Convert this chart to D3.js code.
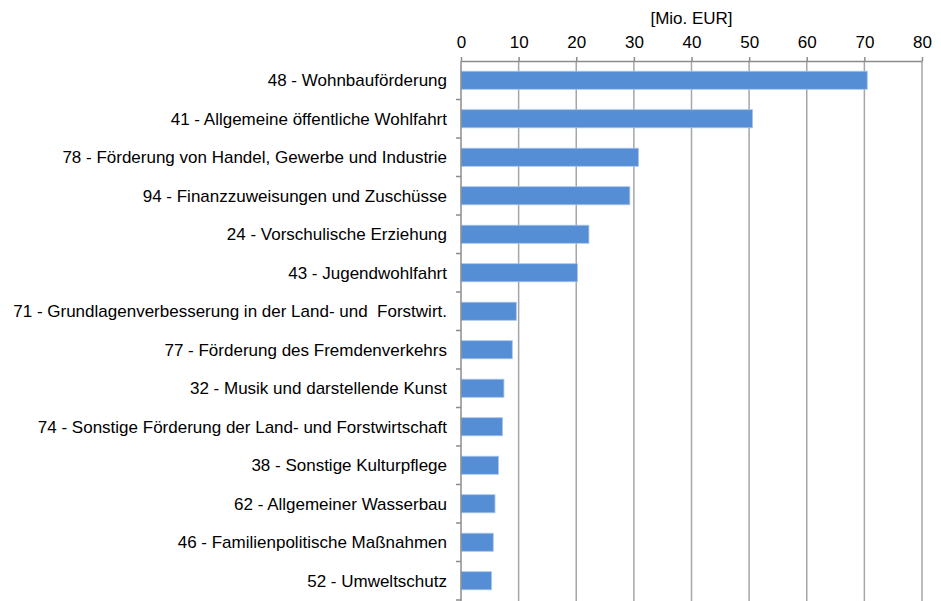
<!DOCTYPE html>
<html>
<head>
<meta charset="utf-8">
<script src="https://cdn.jsdelivr.net/npm/d3@7"></script>
<style>
  body { margin: 0; background: #fff; }
  text { font-family: "Liberation Sans", Arial, sans-serif; fill: #000; }
</style>
</head>
<body>
<div id="chart"></div>
<script>
// categories (top to bottom) and values in Mio. EUR
const categories = [
  "48 - Wohnbauförderung",
  "41 - Allgemeine öffentliche Wohlfahrt",
  "78 - Förderung von Handel, Gewerbe und Industrie",
  "94 - Finanzzuweisungen und Zuschüsse",
  "24 - Vorschulische Erziehung",
  "43 - Jugendwohlfahrt",
  "71 - Grundlagenverbesserung in der Land- und  Forstwirt.",
  "77 - Förderung des Fremdenverkehrs",
  "32 - Musik und darstellende Kunst",
  "74 - Sonstige Förderung der Land- und Forstwirtschaft",
  "38 - Sonstige Kulturpflege",
  "62 - Allgemeiner Wasserbau",
  "46 - Familienpolitische Maßnahmen",
  "52 - Umweltschutz"
];
const values = [70.5, 50.6, 30.8, 29.3, 22.2, 20.2, 9.6, 8.9, 7.45, 7.2, 6.5, 5.9, 5.6, 5.3];
const xTicks = [0, 10, 20, 30, 40, 50, 60, 70, 80];
const axisTitle = "[Mio. EUR]";

const width = 941, height = 601;
const margin = { top: 61, left: 461, right: 19 };
const plotBottom = 600;
const fontSize = "17px";

const svg = d3.select("#chart").append("svg")
  .attr("width", width)
  .attr("height", height);

const x = d3.scaleLinear().domain([0, 80]).range([margin.left, width - margin.right]);
const y = d3.scaleBand().domain(categories).range([margin.top, plotBottom]).paddingInner(0.53).paddingOuter(0.265);

// vertical gridlines
svg.append("g")
  .selectAll("line")
  .data(xTicks.slice(1))
  .join("line")
  .attr("x1", d => x(d)).attr("x2", d => x(d))
  .attr("y1", margin.top).attr("y2", plotBottom + 2)
  .attr("stroke", "#a6a6a6")
  .attr("stroke-width", 1.5);

// bars
svg.append("g")
  .selectAll("rect")
  .data(values)
  .join("rect")
  .attr("x", x(0))
  .attr("y", (d, i) => y(categories[i]))
  .attr("width", d => x(d) - x(0))
  .attr("height", y.bandwidth())
  .attr("fill", "#558ed5")
  .attr("stroke", "#a9c5ea")
  .attr("stroke-width", 0.8);

// top axis
const xAxis = svg.append("g")
  .attr("transform", `translate(0,${margin.top})`)
  .call(d3.axisTop(x).tickValues(xTicks).tickSize(4).tickSizeOuter(0));
xAxis.select(".domain").attr("stroke", "#8c8c8c").attr("stroke-width", 1.5);
xAxis.selectAll(".tick line").attr("stroke", "#8c8c8c").attr("stroke-width", 1.5);
xAxis.selectAll(".tick text")
  .attr("y", -13)
  .style("font-size", fontSize)
  .style("font-family", "Liberation Sans, Arial, sans-serif");

svg.append("text")
  .attr("x", x(40))
  .attr("y", 24)
  .attr("text-anchor", "middle")
  .style("font-size", fontSize)
  .text(axisTitle);

// left axis with category separators
const sepBoundaries = d3.range(categories.length + 1).map(i => margin.top + i * y.step());
svg.append("line")
  .attr("x1", x(0)).attr("x2", x(0))
  .attr("y1", margin.top).attr("y2", plotBottom + 2)
  .attr("stroke", "#8c8c8c")
  .attr("stroke-width", 1.5);
svg.append("g")
  .selectAll("line")
  .data(sepBoundaries.slice(1))
  .join("line")
  .attr("x1", x(0) - 5).attr("x2", x(0))
  .attr("y1", d => d).attr("y2", d => d)
  .attr("stroke", "#8c8c8c")
  .attr("stroke-width", 1.5);

// category labels
svg.append("g")
  .selectAll("text")
  .data(categories)
  .join("text")
  .attr("x", x(0) - 14)
  .attr("y", d => y(d) + y.bandwidth() / 2)
  .attr("dy", "0.35em")
  .attr("text-anchor", "end")
  .style("font-size", fontSize)
  .style("white-space", "pre")
  .attr("xml:space", "preserve")
  .text(d => d);
</script>
</body>
</html>
